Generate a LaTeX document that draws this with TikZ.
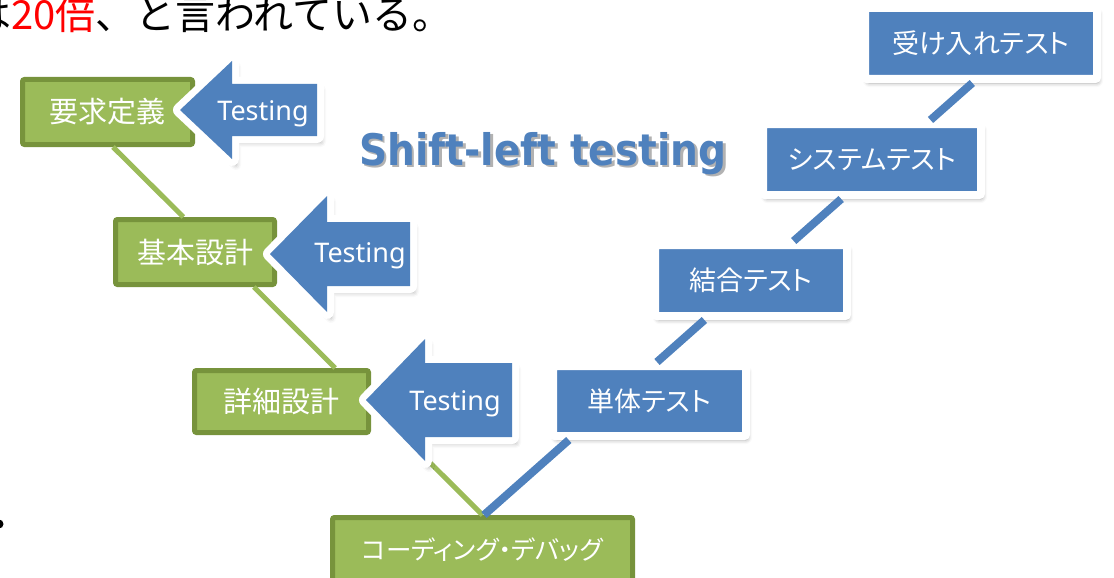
\documentclass[tikz,border=0pt]{standalone}
\usepackage{fontspec}
\usetikzlibrary{shadows.blur}
\newfontfamily\jp{Noto Sans CJK JP}
\newfontfamily\jpp[RawFeature=+palt]{Noto Sans CJK JP}
\newfontfamily\latin{Noto Sans}
\newfontfamily\titlefont[FakeStretch=0.9]{DejaVu Sans}
\definecolor{vgreen}{HTML}{9BBB59}
\definecolor{vgreendark}{HTML}{77933C}
\definecolor{vblue}{HTML}{4F81BD}

\tikzset{
  phase/.style={fill=vgreen, draw=vgreendark, line width=5pt, rounded corners=2pt,
    inner sep=0pt, text=white, font=\jpp\fontsize{29}{31}\selectfont},
  testbox/.style={blur shadow={shadow xshift=2pt, shadow yshift=-4pt,
      shadow blur radius=4pt, shadow opacity=35},
    fill=vblue, draw=white, line width=8pt, rounded corners=2pt,
    inner sep=0pt, text=white, font=\jpp\fontsize{27}{29}\selectfont},
  shiftarrow/.style={blur shadow={shadow xshift=4pt, shadow yshift=-6pt,
      shadow blur radius=5pt, shadow opacity=35},
    preaction={draw=white, line width=14pt, line join=round},
    fill=vblue},
  testlabel/.style={text=white, inner sep=0pt, font=\latin\fontsize{27}{29}\selectfont},
  greenline/.style={draw=vgreen, line width=5pt},
  blueline/.style={draw=vblue, line width=8pt},
  titletext/.style={inner sep=0pt, font=\titlefont\bfseries\fontsize{43.5}{46}\selectfont},
}

% left-pointing block arrow: tip x, centre y, head base x, tail x, body half height, head half height
\newcommand\leftblockarrow[6]{%
  \path[shiftarrow] (#1,#2) -- (#3,#2-#6) -- (#3,#2-#5) -- (#4,#2-#5)
    -- (#4,#2+#5) -- (#3,#2+#5) -- (#3,#2+#6) -- cycle;}

\begin{document}
\begin{tikzpicture}[x=1pt, y=-1pt]
  \useasboundingbox (0,0) rectangle (1114,578);

  % sentence running in from the left edge
  \node[anchor=base west, inner sep=0pt, font=\jp\fontsize{40}{42}\selectfont] (note)
    at (-29,30) {は\textcolor{red}{20倍}、と言われている。};
  \node[circle, fill=black, inner sep=0pt, minimum size=9pt] (dot) at (-1,524) {};

  % test phases (right leg)
  \node[testbox, minimum width=232pt, minimum height=71pt] (accept) at (981,43.5) {受け入れテスト};
  \node[testbox, minimum width=218pt, minimum height=71pt] (system) at (872,159.5) {システムテスト};
  \node[testbox, minimum width=192pt, minimum height=71pt] (integ) at (751,280.5) {結合テスト};
  \node[testbox, minimum width=193pt, minimum height=70pt] (unit) at (649.5,401) {単体テスト};

  % design phases (left leg)
  \node[phase, minimum width=170pt, minimum height=65pt] (yokyu) at (107.5,112) {要求定義};
  \node[phase, minimum width=159pt, minimum height=65pt] (kihon) at (195,252) {基本設計};
  \node[phase, minimum width=174pt, minimum height=62pt] (shosai) at (281.5,401.5) {詳細設計};
  \node[phase, minimum width=300pt, minimum height=65pt, font=\jpp\fontsize{25.5}{28}\selectfont]
    (coding) at (482.5,550) {コーディング・デバッグ};

  % left leg of the V, box to box
  \draw[greenline] ([xshift=5.5pt]yokyu.south) -- ([xshift=-11.6pt]kihon.north);
  \draw[greenline] ([xshift=58.8pt]kihon.south) -- ([xshift=53.7pt]shosai.north);
  \draw[greenline] ([shift={(0,2.1)}]shosai.east) -- (coding.north);

  % right leg of the V, box to box
  \draw[blueline] ([xshift=1.5pt]coding.north) -- ([xshift=-80.7pt]unit.south);
  \draw[blueline] ([xshift=7.5pt]unit.north) -- ([xshift=-46.6pt]integ.south);
  \draw[blueline] ([xshift=42.7pt]integ.north) -- ([xshift=-30.8pt]system.south);
  \draw[blueline] ([xshift=58.5pt]system.north) -- ([xshift=-8.7pt]accept.south);

  % testing moved towards the design phases
  \leftblockarrow{180}{110}{232}{317}{26}{49}
  \leftblockarrow{270}{254}{327}{410}{32}{58}
  \leftblockarrow{366}{400}{425}{512}{37}{61}
  \node[testlabel, anchor=base] (t1) at (263,121) {Testing};
  \node[testlabel, anchor=base] (t2) at (360,262) {Testing};
  \node[testlabel, anchor=base] (t3) at (455,410) {Testing};

  % heading with its soft drop shadow
  \node[titletext, anchor=base, text=black!30] (titleshadow) at (545.5,167.5) {Shift-left testing};
  \node[titletext, anchor=base, text=vblue] (title) at (543,165) {Shift-left testing};
\end{tikzpicture}
\end{document}
